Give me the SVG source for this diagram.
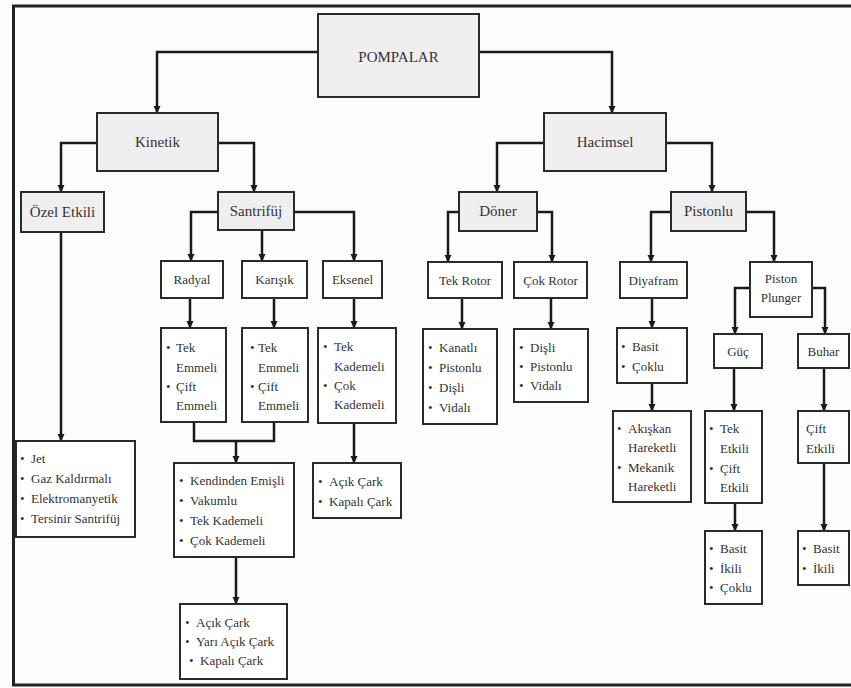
<svg xmlns="http://www.w3.org/2000/svg" width="851" height="688" viewBox="0 0 851 688">
<style>
.bg{fill:#fcfcfc}
.frame{fill:none;stroke:#222;stroke-width:3}
.g{fill:#efefef;stroke:#2a2a2a;stroke-width:2}
.w{fill:#ffffff;stroke:#2a2a2a;stroke-width:2}
.c{fill:none;stroke:#1a1a1a;stroke-width:2.5}
.a{marker-end:url(#arr)}
.L{font-size:15px;text-anchor:middle;fill:#333}
.M{font-size:13px;text-anchor:middle;fill:#333}
.b{font-size:13px;fill:#333}
</style>
<defs>
<marker id="arr" markerUnits="userSpaceOnUse" markerWidth="8" markerHeight="8" refX="7" refY="4" orient="auto" viewBox="0 0 8 8">
<path d="M0,0.5 L7.5,4 L0,7.5 Z" fill="#1a1a1a"/>
</marker>
</defs>
<rect class="bg" x="0" y="0" width="851" height="688"/>
<rect class="frame" x="13.5" y="6" width="870" height="679"/>

<g id="connectors">
<path class="c a" d="M318,52 H157 V113"/>
<path class="c a" d="M479,52 H612 V113"/>
<path class="c a" d="M97,143 H61 V192"/>
<path class="c a" d="M218,143 H254 V192"/>
<path class="c a" d="M218,212 H191 V261"/>
<path class="c a" d="M262,230 V261"/>
<path class="c a" d="M294,212 H354 V261"/>
<path class="c a" d="M190,298 V328"/>
<path class="c a" d="M274,298 V328"/>
<path class="c a" d="M354,298 V328"/>
<path class="c" d="M194,422 V441 H274 V422"/>
<path class="c a" d="M236,441 V463"/>
<path class="c a" d="M354,423 V463"/>
<path class="c a" d="M236,557 V604"/>
<path class="c a" d="M61,232 V441"/>
<path class="c a" d="M544,143 H497 V192"/>
<path class="c a" d="M666,143 H712 V192"/>
<path class="c a" d="M459,212 H448 V262"/>
<path class="c a" d="M537,212 H552 V262"/>
<path class="c a" d="M671,212 H651 V262"/>
<path class="c a" d="M746,212 H774 V262"/>
<path class="c a" d="M462,298 V329"/>
<path class="c a" d="M551,298 V329"/>
<path class="c a" d="M652,298 V328"/>
<path class="c a" d="M652,383 V411"/>
<path class="c a" d="M750,288 H735 V334"/>
<path class="c a" d="M812,288 H825 V334"/>
<path class="c a" d="M734,368 V411"/>
<path class="c a" d="M824,368 V411"/>
<path class="c a" d="M735,503 V531"/>
<path class="c a" d="M824,463 V531"/>
</g>

<g font-family="Liberation Serif, Times New Roman, serif">
<g id="pompalar"><rect class="g" x="318" y="14" width="161" height="83"/><text class="L" font-family="Liberation Serif, serif" x="398.5" y="62">POMPALAR</text></g>
<g id="kinetik"><rect class="g" x="97" y="113" width="121" height="58"/><text class="L" font-family="Liberation Serif, serif" x="157.5" y="147">Kinetik</text></g>
<g id="hacimsel"><rect class="g" x="544" y="113" width="122" height="58"/><text class="L" font-family="Liberation Serif, serif" x="605" y="147">Hacimsel</text></g>
<g id="ozel"><rect class="g" x="21" y="192" width="83" height="40"/><text class="L" font-family="Liberation Serif, serif" x="62.5" y="217">Özel Etkili</text></g>
<g id="santrifuj"><rect class="g" x="218" y="192" width="76" height="38"/><text class="L" font-family="Liberation Serif, serif" x="256" y="216">Santrifüj</text></g>
<g id="doner"><rect class="g" x="459" y="192" width="78" height="39"/><text class="L" font-family="Liberation Serif, serif" x="498" y="216">Döner</text></g>
<g id="pistonlu"><rect class="g" x="671" y="192" width="75" height="39"/><text class="L" font-family="Liberation Serif, serif" x="708.5" y="216">Pistonlu</text></g>

<g id="radyal"><rect class="w" x="161" y="261" width="62" height="37"/><text class="M" font-family="Liberation Serif, serif" x="192" y="284">Radyal</text></g>
<g id="karisik"><rect class="w" x="242" y="261" width="65" height="37"/><text class="M" font-family="Liberation Serif, serif" x="274.5" y="284">Karışık</text></g>
<g id="eksenel"><rect class="w" x="323" y="261" width="59" height="37"/><text class="M" font-family="Liberation Serif, serif" x="352.5" y="284">Eksenel</text></g>
<g id="tekrotor"><rect class="w" x="428" y="262" width="74" height="36"/><text class="M" font-family="Liberation Serif, serif" x="465" y="285">Tek Rotor</text></g>
<g id="cokrotor"><rect class="w" x="514" y="262" width="73" height="36"/><text class="M" font-family="Liberation Serif, serif" x="550.5" y="285">Çok Rotor</text></g>
<g id="diyafram"><rect class="w" x="620" y="262" width="67" height="36"/><text class="M" font-family="Liberation Serif, serif" x="653.5" y="285">Diyafram</text></g>
<g id="pistonplunger"><rect class="w" x="750" y="262" width="62" height="55"/><text class="M" font-family="Liberation Serif, serif" x="781" y="283">Piston</text><text class="M" font-family="Liberation Serif, serif" x="781" y="302">Plunger</text></g>
<g id="guc"><rect class="w" x="714" y="334" width="48" height="34"/><text class="M" font-family="Liberation Serif, serif" x="738" y="356">Güç</text></g>
<g id="buhar"><rect class="w" x="798" y="334" width="51" height="34"/><text class="M" font-family="Liberation Serif, serif" x="823.5" y="356">Buhar</text></g>

<g id="radyal-list"><rect class="w" x="161" y="328" width="65" height="94"/>
<text class="b" font-family="Liberation Serif, serif"><tspan x="166" y="352">•</tspan><tspan x="176" y="352">Tek</tspan><tspan x="176" y="372">Emmeli</tspan><tspan x="166" y="391">•</tspan><tspan x="176" y="391">Çift</tspan><tspan x="176" y="410">Emmeli</tspan></text></g>
<g id="karisik-list"><rect class="w" x="242" y="328" width="66" height="94"/>
<text class="b" font-family="Liberation Serif, serif"><tspan x="250" y="352">•</tspan><tspan x="258" y="352">Tek</tspan><tspan x="258" y="372">Emmeli</tspan><tspan x="250" y="391">•</tspan><tspan x="258" y="391">Çift</tspan><tspan x="258" y="410">Emmeli</tspan></text></g>
<g id="eksenel-list"><rect class="w" x="318" y="328" width="78" height="95"/>
<text class="b" font-family="Liberation Serif, serif"><tspan x="323" y="351">•</tspan><tspan x="334" y="351">Tek</tspan><tspan x="334" y="371">Kademeli</tspan><tspan x="323" y="390">•</tspan><tspan x="334" y="390">Çok</tspan><tspan x="334" y="409">Kademeli</tspan></text></g>
<g id="ozel-list"><rect class="w" x="16" y="441" width="119" height="96"/>
<text class="b" font-family="Liberation Serif, serif"><tspan x="20" y="463">•</tspan><tspan x="31" y="463">Jet</tspan><tspan x="20" y="483">•</tspan><tspan x="31" y="483">Gaz Kaldırmalı</tspan><tspan x="20" y="503">•</tspan><tspan x="31" y="503">Elektromanyetik</tspan><tspan x="20" y="523">•</tspan><tspan x="31" y="523">Tersinir Santrifüj</tspan></text></g>
<g id="kendinden-list"><rect class="w" x="174" y="463" width="120" height="94"/>
<text class="b" font-family="Liberation Serif, serif"><tspan x="179" y="485">•</tspan><tspan x="190" y="485">Kendinden Emişli</tspan><tspan x="179" y="505">•</tspan><tspan x="190" y="505">Vakumlu</tspan><tspan x="179" y="525">•</tspan><tspan x="190" y="525">Tek Kademeli</tspan><tspan x="179" y="545">•</tspan><tspan x="190" y="545">Çok Kademeli</tspan></text></g>
<g id="eksenel-cark"><rect class="w" x="313" y="463" width="88" height="55"/>
<text class="b" font-family="Liberation Serif, serif"><tspan x="318" y="486">•</tspan><tspan x="329" y="486">Açık Çark</tspan><tspan x="318" y="506">•</tspan><tspan x="329" y="506">Kapalı Çark</tspan></text></g>
<g id="cark-list"><rect class="w" x="180" y="604" width="107" height="75"/>
<text class="b" font-family="Liberation Serif, serif"><tspan x="185" y="627">•</tspan><tspan x="196" y="627">Açık Çark</tspan><tspan x="185" y="646">•</tspan><tspan x="196" y="646">Yarı Açık Çark</tspan><tspan x="189" y="665">•</tspan><tspan x="200" y="665">Kapalı Çark</tspan></text></g>
<g id="tekrotor-list"><rect class="w" x="423" y="329" width="74" height="95"/>
<text class="b" font-family="Liberation Serif, serif"><tspan x="428" y="352">•</tspan><tspan x="439" y="352">Kanatlı</tspan><tspan x="428" y="372">•</tspan><tspan x="439" y="372">Pistonlu</tspan><tspan x="428" y="392">•</tspan><tspan x="439" y="392">Dişli</tspan><tspan x="428" y="412">•</tspan><tspan x="439" y="412">Vidalı</tspan></text></g>
<g id="cokrotor-list"><rect class="w" x="514" y="329" width="74" height="73"/>
<text class="b" font-family="Liberation Serif, serif"><tspan x="519" y="352">•</tspan><tspan x="530" y="352">Dişli</tspan><tspan x="519" y="371">•</tspan><tspan x="530" y="371">Pistonlu</tspan><tspan x="519" y="390">•</tspan><tspan x="530" y="390">Vidalı</tspan></text></g>
<g id="diyafram-list"><rect class="w" x="617" y="328" width="70" height="55"/>
<text class="b" font-family="Liberation Serif, serif"><tspan x="621" y="351">•</tspan><tspan x="632" y="351">Basit</tspan><tspan x="621" y="371">•</tspan><tspan x="632" y="371">Çoklu</tspan></text></g>
<g id="akiskan-list"><rect class="w" x="613" y="411" width="78" height="91"/>
<text class="b" font-family="Liberation Serif, serif"><tspan x="617" y="433">•</tspan><tspan x="628" y="433">Akışkan</tspan><tspan x="628" y="452">Hareketli</tspan><tspan x="617" y="472">•</tspan><tspan x="628" y="472">Mekanik</tspan><tspan x="628" y="491">Hareketli</tspan></text></g>
<g id="guc-list"><rect class="w" x="705" y="411" width="57" height="92"/>
<text class="b" font-family="Liberation Serif, serif"><tspan x="709" y="433">•</tspan><tspan x="720" y="433">Tek</tspan><tspan x="720" y="453">Etkili</tspan><tspan x="709" y="473">•</tspan><tspan x="720" y="473">Çift</tspan><tspan x="720" y="492">Etkili</tspan></text></g>
<g id="guc-sub"><rect class="w" x="705" y="531" width="57" height="73"/>
<text class="b" font-family="Liberation Serif, serif"><tspan x="709" y="553">•</tspan><tspan x="720" y="553">Basit</tspan><tspan x="709" y="573">•</tspan><tspan x="720" y="573">İkili</tspan><tspan x="709" y="592">•</tspan><tspan x="720" y="592">Çoklu</tspan></text></g>
<g id="buhar-list"><rect class="w" x="798" y="411" width="51" height="52"/>
<text class="b" font-family="Liberation Serif, serif"><tspan x="806" y="433">Çift</tspan><tspan x="806" y="453">Etkili</tspan></text></g>
<g id="buhar-sub"><rect class="w" x="798" y="531" width="51" height="54"/>
<text class="b" font-family="Liberation Serif, serif"><tspan x="802" y="553">•</tspan><tspan x="813" y="553">Basit</tspan><tspan x="802" y="573">•</tspan><tspan x="813" y="573">İkili</tspan></text></g>
</g>
</svg>
